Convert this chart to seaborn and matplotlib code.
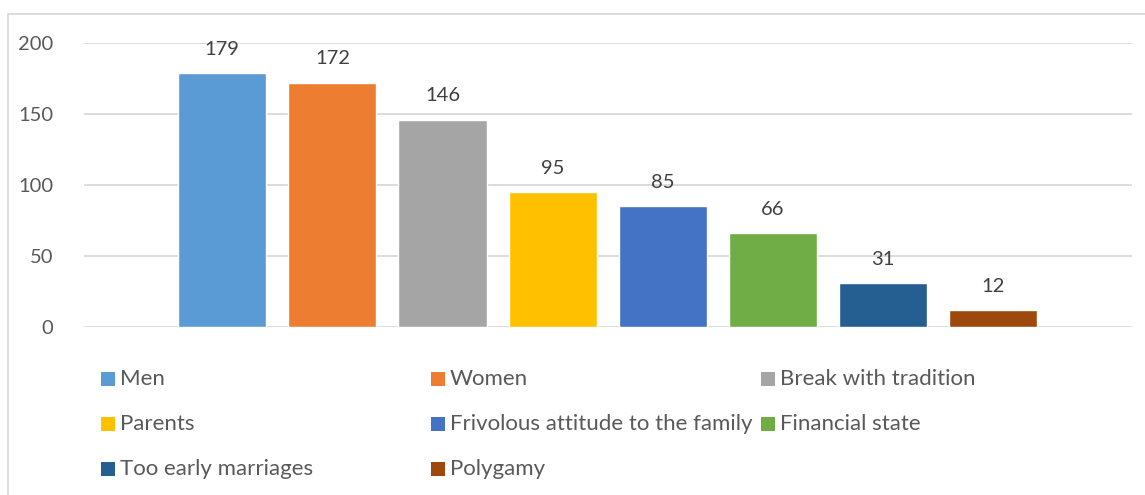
import matplotlib
matplotlib.use("Agg")
import matplotlib.pyplot as plt
from matplotlib.patches import Rectangle
import seaborn as sns
import pandas as pd

categories = ["Men", "Women", "Break with tradition", "Parents",
              "Frivolous attitude to the family", "Financial state",
              "Too early marriages", "Polygamy"]
values = [179, 172, 146, 95, 85, 66, 31, 12]
colors = ["#5B9BD5", "#ED7D31", "#A5A5A5", "#FFC000",
          "#4472C4", "#70AD47", "#255E91", "#9E480E"]
y_ticks = [0, 50, 100, 150, 200]

df = pd.DataFrame({"cause": categories, "count": values})

sns.set_theme(style="white")
plt.rcParams["font.family"] = ["Lato", "DejaVu Sans"]

W, H = 1145, 495
fig = plt.figure(figsize=(W / 100, H / 100), dpi=100)
ax = fig.add_axes([84 / W, 1 - 327 / H, (1132 - 84) / W, (327 - 43) / H])

sns.barplot(data=df, x="cause", y="count", hue="cause", palette=colors,
            legend=False, width=0.8, saturation=1, ax=ax)

for c in ax.containers:
    ax.bar_label(c, padding=11, fontsize=14.5, color="#404040")

ax.set_xlim(-1.255, 8.26)
ax.set_ylim(0, 200)
ax.set_yticks(y_ticks)
ax.set_xticks([])
ax.set_xlabel("")
ax.set_ylabel("")
ax.tick_params(axis="y", length=0, pad=22, labelsize=14.5, labelcolor="#595959")
ax.yaxis.grid(True, color="#D9D9D9", linewidth=1.3)
ax.set_axisbelow(True)
for s in ax.spines.values():
    s.set_visible(False)

# chart border (Excel style)
fig.patches.append(Rectangle((8 / W, -0.1), 1.2, 1 - 14 / H + 0.1,
                             transform=fig.transFigure, fill=False,
                             edgecolor="#D9D9D9", linewidth=1.3))

# legend, row-wise in three equal columns
col_x = [101, 431, 761]
row_y = [379, 424, 469]
for i, (name, col) in enumerate(zip(categories, colors)):
    r, k = divmod(i, 3)
    x0, yc = col_x[k], row_y[r]
    fig.patches.append(Rectangle((x0 / W, 1 - (yc + 7) / H), 14 / W, 14 / H,
                                 transform=fig.transFigure, facecolor=col,
                                 edgecolor="none"))
    fig.text((x0 + 19) / W, 1 - yc / H, name, fontsize=16, color="#595959",
             va="center", ha="left")

fig.savefig("out.png", dpi=100)
